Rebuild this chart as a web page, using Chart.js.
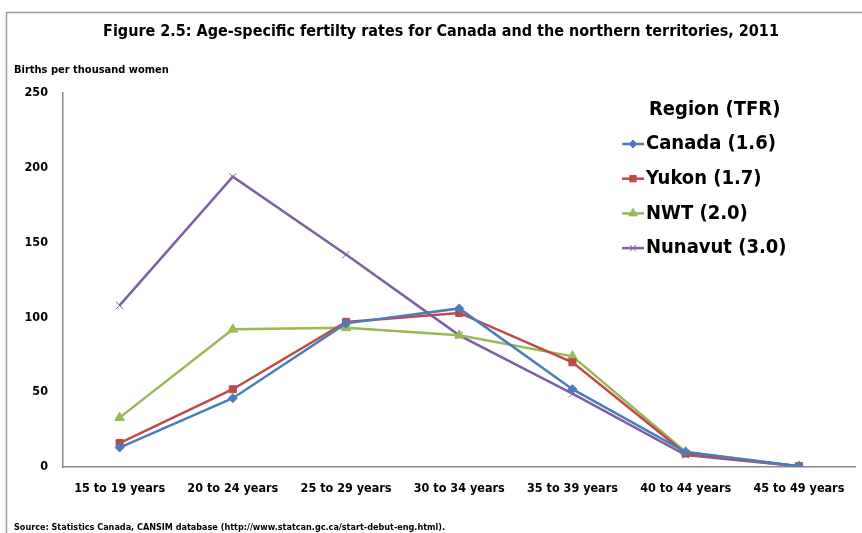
<!DOCTYPE html>
<html>
<head>
<meta charset="utf-8">
<script src="https://cdn.jsdelivr.net/npm/chart.js@4/dist/chart.umd.min.js"></script>
<style>
  html, body { margin: 0; padding: 0; background: #fff; }
  #wrap { width: 862px; height: 533px; }
</style>
</head>
<body>
<div id="wrap"><canvas id="asfr" width="862" height="533"></canvas></div>
<script>
// ---- data ----
const ageGroups = ['15 to 19 years', '20 to 24 years', '25 to 29 years', '30 to 34 years',
                   '35 to 39 years', '40 to 44 years', '45 to 49 years'];
const canada  = [13, 46, 96, 106, 52, 10, 0.5];
const yukon   = [16, 52, 97, 103, 70, 9, 0.5];
const nwt     = [33, 92, 93, 88, 74, 10, 0.5];
const nunavut = [108, 194, 142, 88, 49, 8, 0.5];
const seriesNames = ['Canada (1.6)', 'Yukon (1.7)', 'NWT (2.0)', 'Nunavut (3.0)'];
const yTicks = [0, 50, 100, 150, 200, 250];

const FONT = "'Liberation Sans Narrow', 'DejaVu Sans Condensed', 'Liberation Sans', sans-serif";

// frame, titles, source line and the legend box on the right
const decorations = {
    id: 'decorations',
    beforeDraw(chart) {
        const c = chart.ctx;
        c.save();
        c.fillStyle = '#fff';
        c.fillRect(0, 0, chart.width, chart.height);
        c.strokeStyle = '#9a9a9a';
        c.lineWidth = 1.5;
        c.strokeRect(6.5, 12.5, 900, 600);
        c.restore();
    },
    afterDraw(chart) {
        const c = chart.ctx;
        c.save();
        c.fillStyle = '#000';
        c.textBaseline = 'middle';

        c.font = 'bold 16px ' + FONT;
        c.textAlign = 'center';
        c.fillText('Figure 2.5: Age-specific fertilty rates for Canada and the northern territories, 2011', 441, 32);

        c.textAlign = 'left';
        c.font = 'bold 11px ' + FONT;
        c.fillText('Births per thousand women', 14, 70);

        c.font = 'bold 9px ' + FONT;
        c.fillText('Source: Statistics Canada, CANSIM database (http://www.statcan.gc.ca/start-debut-eng.html).', 14, 528);

        // legend
        c.font = 'bold 20px ' + FONT;
        c.fillText('Region (TFR)', 649, 110);
        chart.data.datasets.forEach((ds, i) => {
            const y = 144 + i * 34.7;
            c.strokeStyle = ds.borderColor;
            c.lineWidth = 2.5;
            c.beginPath();
            c.moveTo(622, y);
            c.lineTo(644, y);
            c.stroke();
            c.fillStyle = ds.pointBackgroundColor;
            c.strokeStyle = ds.pointBorderColor;
            c.lineWidth = ds.pointBorderWidth;
            Chart.helpers.drawPoint(c, { pointStyle: ds.pointStyle, radius: ds.pointRadius - 0.5, rotation: 0, borderWidth: ds.pointBorderWidth }, 633, y);
            c.fillStyle = '#000';
            c.font = 'bold 20px ' + FONT;
            c.fillText(ds.label, 646, y);
        });
        c.restore();
    }
};

function makeSeries(label, data, color, style, radius) {
    return {
        label,
        data,
        borderColor: color,
        backgroundColor: color,
        borderWidth: 2.5,
        pointStyle: style,
        pointRadius: radius,
        pointBackgroundColor: color,
        pointBorderColor: color,
        pointBorderWidth: 1,
        tension: 0
    };
}

new Chart(document.getElementById('asfr'), {
    type: 'line',
    data: {
        labels: ageGroups,
        datasets: [
            makeSeries(seriesNames[0], canada, '#4a7ebb', 'rectRot', 4.5),
            makeSeries(seriesNames[1], yukon, '#be4b48', 'rect', 5),
            makeSeries(seriesNames[2], nwt, '#98b954', 'triangle', 5.5),
            makeSeries(seriesNames[3], nunavut, '#7d60a0', 'crossRot', 5)
        ]
    },
    options: {
        responsive: false,
        animation: false,
        layout: { padding: { left: 0, top: 93, right: 3, bottom: 0 } },
        plugins: {
            legend: { display: false },
            title: { display: false },
            tooltip: { enabled: false }
        },
        scales: {
            x: {
                offset: true,
                grid: { display: false, drawTicks: false },
                border: { color: '#8c8c8c', width: 1.5 },
                ticks: {
                    color: '#000',
                    padding: 14,
                    maxRotation: 0,
                    font: { family: FONT, size: 12.5, weight: 'bold' }
                },
                afterFit: (s) => { s.height = 66; }
            },
            y: {
                min: 0,
                max: 250,
                afterBuildTicks: (s) => { s.ticks = yTicks.map(v => ({ value: v })); },
                grid: { display: false, drawTicks: false },
                border: { color: '#8c8c8c', width: 1.5 },
                ticks: {
                    color: '#000',
                    padding: 15,
                    font: { family: FONT, size: 12.5, weight: 'bold' }
                },
                afterFit: (s) => { s.width = 63; }
            }
        }
    },
    plugins: [decorations]
});
</script>
</body>
</html>
